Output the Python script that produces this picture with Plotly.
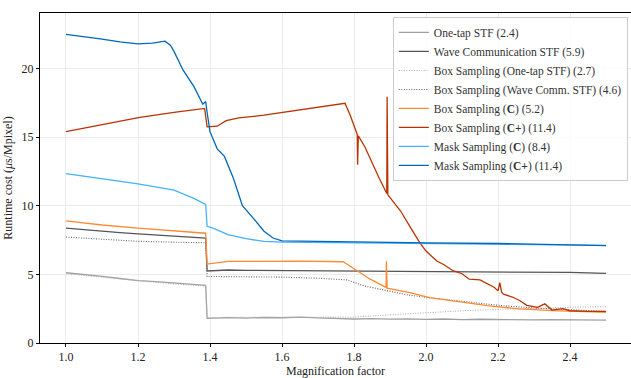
import plotly.graph_objects as go

# ---- data ----
onetap_x = [1.0, 1.05, 1.1, 1.15, 1.2, 1.25, 1.3, 1.35, 1.388, 1.392, 1.45, 1.5, 1.55, 1.6, 1.65, 1.7, 1.75, 1.8, 1.85, 1.9, 1.95, 2.0, 2.05, 2.1, 2.15, 2.2, 2.25, 2.3, 2.35, 2.4, 2.45, 2.5]
onetap_y = [5.12, 5.0, 4.85, 4.7, 4.55, 4.48, 4.38, 4.3, 4.2, 1.8, 1.85, 1.82, 1.86, 1.84, 1.88, 1.83, 1.8, 1.75, 1.78, 1.74, 1.76, 1.72, 1.75, 1.7, 1.73, 1.7, 1.72, 1.68, 1.7, 1.67, 1.68, 1.66]

wave_x = [1.0, 1.05, 1.1, 1.15, 1.2, 1.25, 1.3, 1.35, 1.388, 1.392, 1.45, 1.5, 1.6, 1.7, 1.8, 1.9, 2.0, 2.1, 2.2, 2.3, 2.4, 2.5]
wave_y = [8.37, 8.25, 8.15, 8.05, 7.95, 7.88, 7.8, 7.72, 7.65, 5.25, 5.32, 5.3, 5.28, 5.3, 5.25, 5.27, 5.24, 5.22, 5.2, 5.18, 5.14, 5.08]

box_onetap_x = [1.0, 1.1, 1.2, 1.3, 1.388, 1.392, 1.5, 1.6, 1.7, 1.8, 1.85, 1.9, 1.95, 2.0, 2.1, 2.2, 2.3, 2.4, 2.5]
box_onetap_y = [5.05, 4.8, 4.5, 4.3, 4.15, 1.85, 1.88, 1.86, 1.88, 1.9, 1.98, 2.05, 2.14, 2.22, 2.35, 2.45, 2.55, 2.6, 2.65]

box_wave_x = [1.0, 1.1, 1.2, 1.3, 1.388, 1.392, 1.5, 1.6, 1.7, 1.78, 1.83, 1.89, 1.95, 2.01, 2.1, 2.2, 2.3, 2.4, 2.5]
box_wave_y = [7.72, 7.55, 7.41, 7.35, 7.3, 4.85, 4.85, 4.8, 4.72, 4.6, 4.15, 3.8, 3.5, 3.3, 3.05, 2.75, 2.55, 2.4, 2.3]

box_c_x = [1.0, 1.1, 1.2, 1.3, 1.388, 1.392, 1.45, 1.55, 1.65, 1.77, 1.81, 1.845, 1.889, 1.89, 1.892, 1.955, 2.01, 2.075, 2.17, 2.26, 2.35, 2.5]
box_c_y = [8.9, 8.6, 8.37, 8.15, 8.0, 5.75, 5.95, 5.95, 5.97, 5.92, 5.25, 4.65, 4.05, 5.95, 4.0, 3.68, 3.3, 3.08, 2.72, 2.48, 2.36, 2.24]

box_cp_x = [1.0, 1.1, 1.205, 1.3, 1.385, 1.392, 1.42, 1.445, 1.48, 1.55, 1.62, 1.7, 1.775, 1.79, 1.809, 1.81, 1.812, 1.83, 1.845, 1.87, 1.891, 1.892, 1.894, 1.93, 1.955, 1.983, 2.0, 2.03, 2.05, 2.075, 2.1, 2.12, 2.15, 2.17, 2.19, 2.2, 2.205, 2.21, 2.215, 2.24, 2.26, 2.28, 2.31, 2.33, 2.35, 2.38, 2.4, 2.45, 2.5]
box_cp_y = [15.4, 15.9, 16.45, 16.8, 17.1, 15.75, 15.8, 16.2, 16.4, 16.6, 16.87, 17.15, 17.47, 16.56, 15.2, 13.0, 15.1, 14.3, 13.4, 12.0, 10.9, 17.95, 10.8, 9.6, 8.5, 7.3, 6.7, 5.97, 5.7, 5.27, 5.05, 4.65, 4.6, 4.3, 4.05, 3.8, 4.4, 3.7, 3.56, 3.35, 3.1, 2.75, 2.6, 2.85, 2.4, 2.5, 2.35, 2.3, 2.3]

mask_c_x = [1.0, 1.1, 1.2, 1.3, 1.355, 1.388, 1.392, 1.41, 1.45, 1.5, 1.55, 1.6, 1.8, 2.0, 2.2, 2.4, 2.5]
mask_c_y = [12.35, 12.0, 11.6, 11.14, 10.54, 10.1, 8.5, 8.35, 7.9, 7.6, 7.4, 7.35, 7.3, 7.25, 7.2, 7.15, 7.12]

mask_cp_x = [1.0, 1.05, 1.1, 1.15, 1.2, 1.24, 1.275, 1.29, 1.3, 1.325, 1.355, 1.38, 1.388, 1.392, 1.4, 1.42, 1.44, 1.465, 1.49, 1.52, 1.55, 1.575, 1.6, 1.7, 1.8, 2.0, 2.2, 2.4, 2.5]
mask_cp_y = [22.5, 22.35, 22.15, 21.95, 21.8, 21.85, 22.0, 21.7, 21.25, 19.9, 18.7, 17.4, 17.6, 16.8, 15.4, 14.15, 13.6, 12.0, 10.0, 9.1, 8.15, 7.65, 7.45, 7.4, 7.35, 7.3, 7.25, 7.15, 7.1]

series = [
    ("One-tap STF (2.4)", onetap_x, onetap_y, "#a0a0a0", "solid"),
    ("Wave Communication STF (5.9)", wave_x, wave_y, "#555555", "solid"),
    ("Box Sampling (One-tap STF) (2.7)", box_onetap_x, box_onetap_y, "#b0b0b0", "1px,1.5px"),
    ("Box Sampling (Wave Comm. STF) (4.6)", box_wave_x, box_wave_y, "#666666", "1px,1.5px"),
    ("Box Sampling (<b>C</b>) (5.2)", box_c_x, box_c_y, "#ff8a33", "solid"),
    ("Box Sampling (<b>C+</b>) (11.4)", box_cp_x, box_cp_y, "#b83300", "solid"),
    ("Mask Sampling (<b>C</b>) (8.4)", mask_c_x, mask_c_y, "#44b2ff", "solid"),
    ("Mask Sampling (<b>C+</b>) (11.4)", mask_cp_x, mask_cp_y, "#0068b8", "solid"),
]

x_ticks = [1.0, 1.2, 1.4, 1.6, 1.8, 2.0, 2.2, 2.4]
y_ticks = [0, 5, 10, 15, 20]

fig = go.Figure()
for name, xs, ys, color, dash in series:
    w = 1.1 if dash != "solid" else 1.3
    fig.add_trace(go.Scatter(x=xs, y=ys, mode="lines", name=name,
                             line=dict(color=color, width=w, dash=dash)))

FF = "Liberation Serif, Times New Roman, serif"
fig.update_layout(
    width=631, height=378,
    margin=dict(l=40, r=0, t=13, b=32),
    paper_bgcolor="white", plot_bgcolor="white",
    font=dict(family=FF, size=12, color="#222"),
    legend=dict(x=0.597, y=0.988, xanchor="left", yanchor="top",
                bgcolor="rgba(255,255,255,0.85)", bordercolor="#cccccc", borderwidth=1,
                font=dict(family=FF, size=11.5, color="#333"), tracegroupgap=0),
    showlegend=True,
)
fig.update_xaxes(range=[0.9278, 2.5694], tickvals=x_ticks, ticktext=[f"{v:.1f}" for v in x_ticks],
                 tickfont=dict(family=FF, size=12, color="#222"),
                 showgrid=True, gridcolor="#ebebeb", gridwidth=1,
                 showline=True, linecolor="black", linewidth=1, mirror=True,
                 ticks="outside", ticklen=3, tickcolor="black",
                 zeroline=False,
                 title=dict(text="Magnification factor", standoff=5, font=dict(family=FF, size=12)))
fig.update_yaxes(range=[0, 24.05], tickvals=y_ticks,
                 tickfont=dict(family=FF, size=12, color="#222"),
                 showgrid=True, gridcolor="#ebebeb", gridwidth=1,
                 showline=True, linecolor="black", linewidth=1,
                 ticks="outside", ticklen=3, tickcolor="black",
                 zeroline=False,
                 title=dict(text="Runtime cost (<i>μ</i>s/Mpixel)", standoff=6, font=dict(family=FF, size=12)))

fig.write_html("out.html")
